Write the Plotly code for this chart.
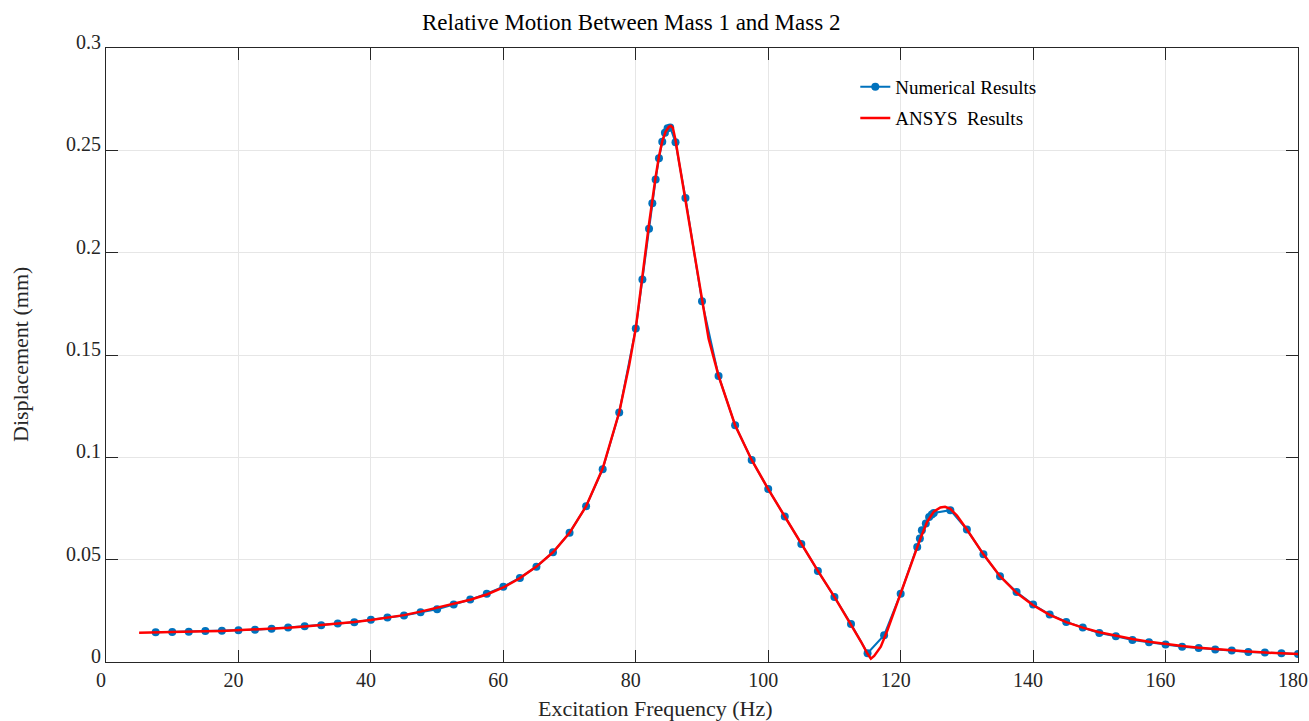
import plotly.graph_objects as go

# Numerical results (blue)
num_freq = [7.5, 10, 12.5, 15, 17.5, 20, 22.5, 25, 27.5, 30, 32.5, 35, 37.5, 40, 42.5, 45, 47.5,
            50, 52.5, 55, 57.5, 60, 62.5, 65, 67.5, 70, 72.5, 75, 77.5, 80, 81, 82, 82.5, 83, 83.5,
            84, 84.4, 84.8, 85.2, 86, 87.5, 90, 92.5, 95, 97.5, 100, 102.5, 105, 107.5, 110, 112.5,
            115, 117.5, 120, 122.5, 122.9, 123.2, 123.8, 124.3, 124.7, 125, 127.5, 130, 132.5, 135,
            137.5, 140, 142.5, 145, 147.5, 150, 152.5, 155, 157.5, 160, 162.5, 165, 167.5, 170,
            172.5, 175, 177.5, 180]
num_disp = [0.0145, 0.0147, 0.0148, 0.0151, 0.0153, 0.0155, 0.0158, 0.0162, 0.0168, 0.0175, 0.0179,
            0.0188, 0.0194, 0.0207, 0.0217, 0.0227, 0.0243, 0.0258, 0.0281, 0.0305, 0.0334, 0.0368,
            0.0411, 0.0466, 0.0536, 0.0631, 0.0761, 0.0942, 0.1219, 0.163, 0.1869, 0.2117, 0.2241,
            0.2358, 0.2461, 0.2542, 0.2586, 0.2608, 0.2612, 0.2539, 0.2267, 0.1763, 0.1398, 0.1157,
            0.0987, 0.0845, 0.0711, 0.0577, 0.0445, 0.0318, 0.0186, 0.0043, 0.0131, 0.0334, 0.0562,
            0.0603, 0.0644, 0.0677, 0.0709, 0.0721, 0.0728, 0.0742, 0.0647, 0.0526, 0.0419, 0.0342,
            0.0281, 0.0232, 0.0196, 0.0168, 0.0142, 0.0126, 0.0108, 0.0096, 0.0085, 0.0075, 0.0068,
            0.0061, 0.0056, 0.0049, 0.0046, 0.0043, 0.0039]

# ANSYS results (red)
ansys_freq = [5, 7.5, 10, 12.5, 15, 17.5, 20, 22.5, 25, 27.5, 30, 32.5, 35, 37.5, 40, 42.5, 45, 47.5,
              50, 52.5, 55, 57.5, 60, 62.5, 65, 67.5, 70, 72.5, 75, 77.5, 79, 80, 81, 82, 83, 83.5,
              84, 84.5, 85, 85.3, 85.6, 86, 86.5, 87.5, 88.5, 90, 91, 92.5, 95, 97.5, 100, 102.5,
              105, 107.5, 110, 112.5, 114, 115, 115.5, 116, 117, 118, 119, 120, 121, 122, 123, 124,
              125, 126, 126.7, 127.5, 128.5, 130, 132.5, 135, 137.5, 140, 142.5, 145, 147.5, 150,
              152.5, 155, 157.5, 160, 162.5, 165, 167.5, 170, 172.5, 175, 177.5, 180]
ansys_disp = [0.0143, 0.0144, 0.0146, 0.0148, 0.015, 0.0152, 0.0155, 0.0158, 0.0162, 0.0167, 0.0174,
              0.018, 0.0187, 0.0195, 0.0205, 0.0216, 0.0229, 0.0246, 0.0266, 0.0284, 0.0304, 0.0330,
              0.0364, 0.041, 0.0466, 0.0536, 0.0631, 0.0761, 0.0945, 0.122, 0.145, 0.163, 0.189,
              0.214, 0.237, 0.247, 0.2545, 0.259, 0.2615, 0.262, 0.261, 0.255, 0.245, 0.2255, 0.205,
              0.176, 0.158, 0.1398, 0.1157, 0.0987, 0.0845, 0.0711, 0.0577, 0.0445, 0.0318, 0.0186,
              0.010, 0.004, 0.0016, 0.003, 0.0075, 0.0155, 0.0245, 0.0334, 0.043, 0.052, 0.0605,
              0.0685, 0.0735, 0.0755, 0.0758, 0.0748, 0.0715, 0.0647, 0.0526, 0.0419, 0.0338, 0.0277,
              0.023, 0.0195, 0.0168, 0.0145, 0.0127, 0.0112, 0.0099, 0.0088, 0.0078, 0.007, 0.0063,
              0.0057, 0.0051, 0.0046, 0.0042, 0.0039]

x_ticks = [0, 20, 40, 60, 80, 100, 120, 140, 160, 180]
y_ticks = [0, 0.05, 0.1, 0.15, 0.2, 0.25, 0.3]
y_tick_text = ["0", "0.05", "0.1", "0.15", "0.2", "0.25", "0.3"]

FONT = "Liberation Serif, Times New Roman, serif"
AX = "#262626"

fig = go.Figure()
fig.add_trace(go.Scatter(x=num_freq, y=num_disp, mode="lines+markers", name="Numerical Results",
                         line=dict(color="#0072BD", width=2),
                         marker=dict(color="#0072BD", size=8, symbol="circle"),
                         legend="legend"))
fig.add_trace(go.Scatter(x=ansys_freq, y=ansys_disp, mode="lines", name="ANSYS  Results",
                         line=dict(color="#FF0000", width=2.5), legend="legend2"))

axis_common = dict(showline=True, linecolor=AX, linewidth=1, mirror="ticks", ticks="inside",
                   ticklen=12, tickcolor=AX, tickwidth=1, showgrid=True, gridcolor="#e6e6e6",
                   gridwidth=1, zeroline=False, ticklabeloverflow="allow", automargin=False,
                   tickfont=dict(family=FONT, size=20, color=AX))

fig.update_xaxes(range=[0, 180], tickvals=x_ticks, ticklabelshift=-5, **axis_common)
fig.update_yaxes(range=[0, 0.3], tickvals=y_ticks, ticktext=y_tick_text, ticklabelshift=-6,
                 **axis_common)

leg_common = dict(xanchor="left", yanchor="middle", bgcolor="rgba(255,255,255,0)", borderwidth=0,
                  font=dict(family=FONT, size=19, color="black"))

fig.update_layout(
    width=1309, height=721,
    margin=dict(l=106, r=11, t=48, b=59, pad=0, autoexpand=False),
    plot_bgcolor="white", paper_bgcolor="white",
    font=dict(family=FONT, color=AX),
    showlegend=True,
    legend=dict(x=0.6286, y=(661.7 - 87) / 613.7, **leg_common),
    legend2=dict(x=0.6286, y=(661.7 - 118) / 613.7, **leg_common),
    annotations=[
        dict(text="Relative Motion Between Mass 1 and Mass 2", xref="paper", yref="paper",
             x=(631 - 106) / 1192, y=1, yshift=26, xanchor="center", yanchor="middle",
             showarrow=False, font=dict(family=FONT, size=23, color="black")),
        dict(text="Excitation Frequency (Hz)", xref="paper", yref="paper",
             x=(655 - 106) / 1192, y=0, yshift=-46, xanchor="center", yanchor="middle",
             showarrow=False, font=dict(family=FONT, size=22, color=AX)),
        dict(text="Displacement (mm)", xref="paper", yref="paper", textangle=-90,
             x=0, xshift=-86, y=0.5, xanchor="center", yanchor="middle",
             showarrow=False, font=dict(family=FONT, size=22, color=AX)),
    ],
)

fig.write_html("out.html")
